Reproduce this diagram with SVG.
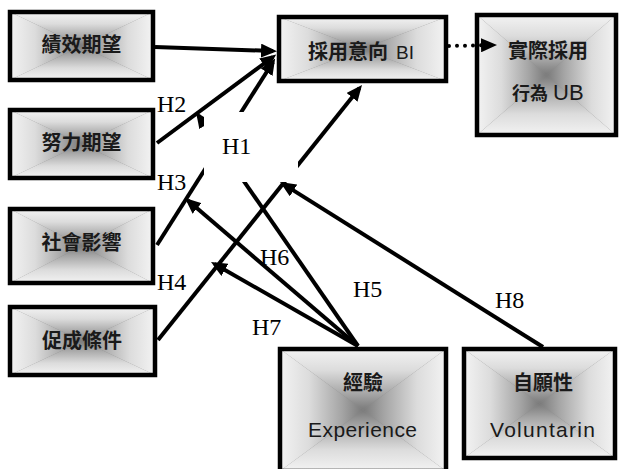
<svg xmlns="http://www.w3.org/2000/svg" width="619" height="469" viewBox="0 0 619 469">
<style>
.box{fill:none;stroke:#000;stroke-width:4.5}
.bg{fill:#8a8a8a}
.cjk{font-family:"Noto Sans CJK TC","Noto Sans CJK SC",sans-serif;font-size:20px;font-weight:bold;fill:#1a1a1a}
.lat{font-family:"Liberation Sans",Arial,sans-serif;font-weight:normal;fill:#1a1a1a}
.lbl{font-family:"Liberation Serif","Times New Roman",serif;font-size:24px;fill:#000}
.mid{text-anchor:middle}
</style>
<defs>
<linearGradient id="gT" x1="0" y1="0" x2="0" y2="1"><stop offset="0" stop-color="#f3f3f3"/><stop offset="0.35" stop-color="#dcdcdc"/><stop offset="0.75" stop-color="#a4a4a4"/><stop offset="1" stop-color="#7a7a7a"/></linearGradient>
<linearGradient id="gB" x1="0" y1="1" x2="0" y2="0"><stop offset="0" stop-color="#f3f3f3"/><stop offset="0.35" stop-color="#dcdcdc"/><stop offset="0.75" stop-color="#a4a4a4"/><stop offset="1" stop-color="#7a7a7a"/></linearGradient>
<linearGradient id="gL" x1="0" y1="0" x2="1" y2="0"><stop offset="0" stop-color="#f3f3f3"/><stop offset="0.35" stop-color="#dcdcdc"/><stop offset="0.75" stop-color="#a4a4a4"/><stop offset="1" stop-color="#7a7a7a"/></linearGradient>
<linearGradient id="gR" x1="1" y1="0" x2="0" y2="0"><stop offset="0" stop-color="#f3f3f3"/><stop offset="0.35" stop-color="#dcdcdc"/><stop offset="0.75" stop-color="#a4a4a4"/><stop offset="1" stop-color="#7a7a7a"/></linearGradient>
<symbol id="shade" viewBox="0 0 100 100" preserveAspectRatio="none">
<rect class="bg" x="0" y="0" width="100" height="100"/>
<polygon points="0,0 100,0 50,50" fill="url(#gT)"/>
<polygon points="0,100 100,100 50,50" fill="url(#gB)"/>
<polygon points="0,0 0,100 50,50" fill="url(#gL)"/>
<polygon points="100,0 100,100 50,50" fill="url(#gR)"/>
</symbol>
<marker id="ah" markerUnits="userSpaceOnUse" viewBox="0 0 16 14" markerWidth="16" markerHeight="14" refX="12" refY="7" orient="auto">
<path d="M0,0 L16,7 L0,14 Z" fill="#000"/>
</marker>
</defs>

<g id="node-performance">
<use href="#shade" x="10" y="12" width="143" height="68"/>
<rect class="box" x="10" y="12" width="143" height="68"/>
<text class="cjk mid" x="81.5" y="51.5">績效期望</text>
</g>
<g id="node-effort">
<use href="#shade" x="10" y="110" width="143" height="68"/>
<rect class="box" x="10" y="110" width="143" height="68"/>
<text class="cjk mid" x="81.5" y="150">努力期望</text>
</g>
<g id="node-social">
<use href="#shade" x="10" y="209" width="143" height="74"/>
<rect class="box" x="10" y="209" width="143" height="74"/>
<text class="cjk mid" x="81.5" y="250">社會影響</text>
</g>
<g id="node-facilitating">
<use href="#shade" x="10" y="307" width="145" height="68"/>
<rect class="box" x="10" y="307" width="145" height="68"/>
<text class="cjk mid" x="82" y="348">促成條件</text>
</g>
<g id="node-bi">
<use href="#shade" x="279" y="17" width="167" height="64"/>
<rect class="box" x="279" y="17" width="167" height="64"/>
<text class="cjk" x="308" y="59">採用意向</text>
<text class="lat" x="396" y="59" style="font-size:19px">BI</text>
</g>
<g id="node-ub">
<use href="#shade" x="477" y="15" width="139" height="120"/>
<rect class="box" x="477" y="15" width="139" height="120"/>
<text class="cjk" x="508" y="58">實際採用</text>
<text class="cjk" x="512" y="100" style="font-size:18px">行為</text>
<text class="lat" x="553" y="100" style="font-size:22px">UB</text>
</g>
<g id="node-experience">
<use href="#shade" x="280" y="349" width="166" height="122"/>
<rect class="box" x="280" y="349" width="166" height="122"/>
<text class="cjk mid" x="363" y="390">經驗</text>
<text class="lat" x="308" y="437" style="font-size:21px" textLength="109" lengthAdjust="spacing">Experience</text>
</g>
<g id="node-voluntariness">
<use href="#shade" x="464" y="349" width="151" height="109"/>
<rect class="box" x="464" y="349" width="151" height="109"/>
<text class="cjk mid" x="543" y="390">自願性</text>
<text class="lat" x="490" y="437" style="font-size:21px" textLength="105" lengthAdjust="spacing">Voluntarin</text>
</g>

<g id="connectors" fill="none" stroke="#000" stroke-width="4">
<line x1="155" y1="47" x2="273" y2="51" marker-end="url(#ah)"/>
<line x1="157" y1="143" x2="273" y2="57" marker-end="url(#ah)"/>
<line x1="157" y1="245" x2="273" y2="62" marker-end="url(#ah)"/>
<line x1="158" y1="340" x2="359.5" y2="88" marker-end="url(#ah)"/>
<path d="M449,46 L493,45" stroke-linecap="round" stroke-dasharray="0 8" marker-end="url(#ah)"/>
<line x1="358" y1="346" x2="198.3" y2="115.3" marker-end="url(#ah)"/>
<line x1="358" y1="346" x2="188" y2="200.6" marker-end="url(#ah)"/>
<line x1="358" y1="346" x2="214.5" y2="264" marker-end="url(#ah)"/>
<line x1="543" y1="347" x2="283.4" y2="184.1" marker-end="url(#ah)"/>
</g>

<g id="labels">
<rect x="204" y="112" width="94" height="70" fill="#fff"/>
<text class="lbl" x="222" y="154">H1</text>
<text class="lbl" x="157" y="112">H2</text>
<text class="lbl" x="157" y="190">H3</text>
<text class="lbl" x="157" y="290">H4</text>
<text class="lbl" x="353" y="297">H5</text>
<text class="lbl" x="260" y="265">H6</text>
<text class="lbl" x="252" y="335">H7</text>
<text class="lbl" x="495" y="308">H8</text>
</g>
</svg>
